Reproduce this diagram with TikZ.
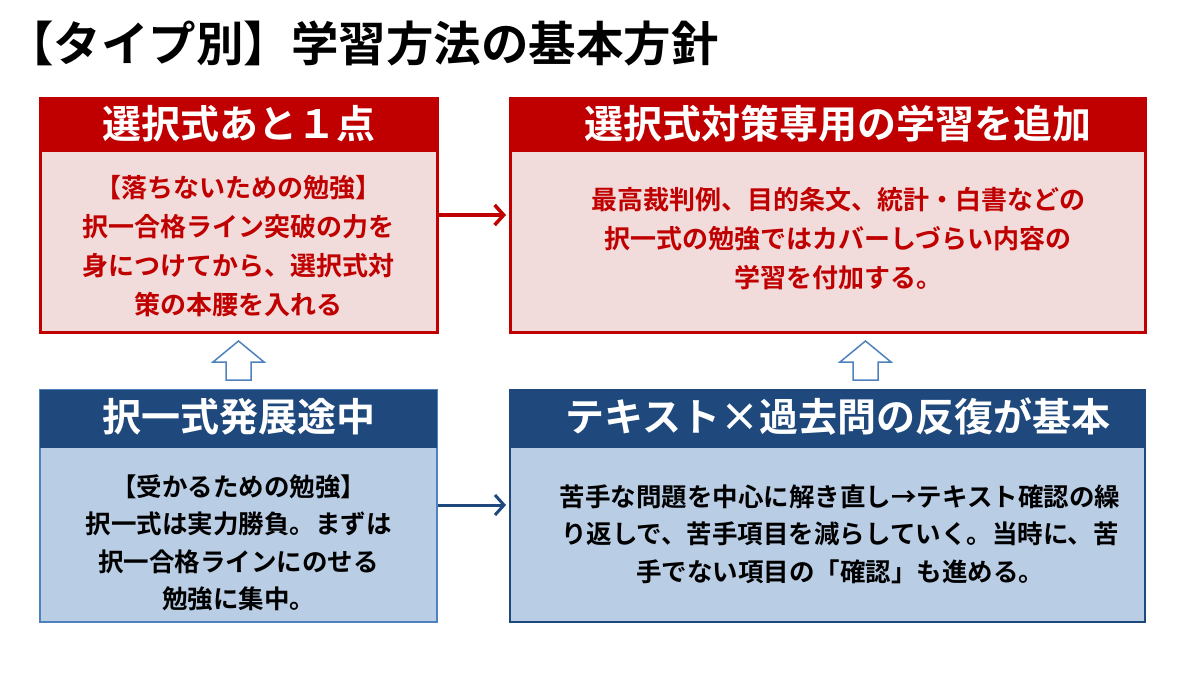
\documentclass[tikz,border=0pt]{standalone}
\usepackage{fontspec}
\setmainfont{Noto Sans CJK JP}[BoldFont={* Bold}]
\usetikzlibrary{arrows.meta}
\definecolor{dred}{HTML}{C00000}
\definecolor{pinkb}{HTML}{F2DCDB}
\definecolor{dblue}{HTML}{1F497D}
\definecolor{lblue}{HTML}{B9CDE5}
\definecolor{mblue}{HTML}{4F81BD}
\begin{document}
\begin{tikzpicture}[x=1pt,y=-1pt,
  hdr/.style={font=\bfseries\fontsize{39}{44}\selectfont,text=white,anchor=center},
  bodyr/.style={font=\bfseries\fontsize{26}{39}\selectfont,text=dred,align=center,anchor=center},
  bodyb/.style={font=\bfseries\fontsize{25.5}{37.5}\selectfont,text=black,align=center,anchor=center},
  uparr/.style={draw=mblue,line width=1.5pt,fill=white}]
\useasboundingbox (0,0) rectangle (1200,675);
\node[font=\bfseries\fontsize{47.5}{52}\selectfont,anchor=west,inner sep=0pt] (title) at (6,43) {【タイプ別】学習方法の基本方針};
% box1
\fill[pinkb] (40,98) rectangle (437,332);
\fill[dred] (40,98) rectangle (437,152);
\draw[dred,line width=3pt] (40,98) rectangle (437,332);
\node[hdr] (h1) at (238.5,124) {選択式あと１点};
\node[bodyr] (b1) at (238.5,246) {【落ちないための勉強】\\択一合格ライン突破の力を\\身につけてから、選択式対\\策の本腰を入れる};
\coordinate (r1) at (438,215);
% box2
\fill[pinkb] (510,98) rectangle (1145,332);
\fill[dred] (510,98) rectangle (1145,152);
\draw[dred,line width=3pt] (510,98) rectangle (1145,332);
\node[hdr] (h2) at (838,124) {選択式対策専用の学習を追加};
\node[bodyr] (b2) at (838,239) {最高裁判例、目的条文、統計・白書などの\\択一式の勉強ではカバーしづらい内容の\\学習を付加する。};
\coordinate (l2) at (506,215);
% box3
\fill[lblue] (40,390) rectangle (437,622);
\draw[mblue,line width=2.5pt] (40,390) rectangle (437,622);
\fill[dblue] (40,390) rectangle (437,448);
\node[hdr] (h3) at (238.5,417) {択一式発展途中};
\node[bodyb] (b3) at (238.5,543) {【受かるための勉強】\\択一式は実力勝負。まずは\\択一合格ラインにのせる\\勉強に集中。};
\coordinate (r3) at (438,505);
% box4
\fill[lblue] (510,390) rectangle (1145,622);
\fill[dblue] (510,390) rectangle (1145,448);
\draw[dblue,line width=2.5pt] (510,390) rectangle (1145,622);
\node[hdr] (h4) at (838,417) {テキスト×過去問の反復が基本};
\node[bodyb] (b4) at (840,534) {苦手な問題を中心に解き直し→テキスト確認の繰\\り返しで、苦手項目を減らしていく。当時に、苦\\手でない項目の「確認」も進める。};
\coordinate (l4) at (506,505);
% connectors
\draw[dred,line width=3.5pt,-{Straight Barb[length=9pt,width=20pt]}] (r1) -- (l2);
\draw[dblue,line width=3pt,-{Straight Barb[length=9pt,width=20pt]}] (r3) -- (l4);
% hollow up arrows
\draw[uparr] (226,380) -- (251,380) -- (251,362) -- (264,362) -- (238.5,341) -- (213,362) -- (226,362) -- cycle;
\draw[uparr] (853,380) -- (878,380) -- (878,362) -- (891,362) -- (865.5,341) -- (840,362) -- (853,362) -- cycle;
\end{tikzpicture}
\end{document}
